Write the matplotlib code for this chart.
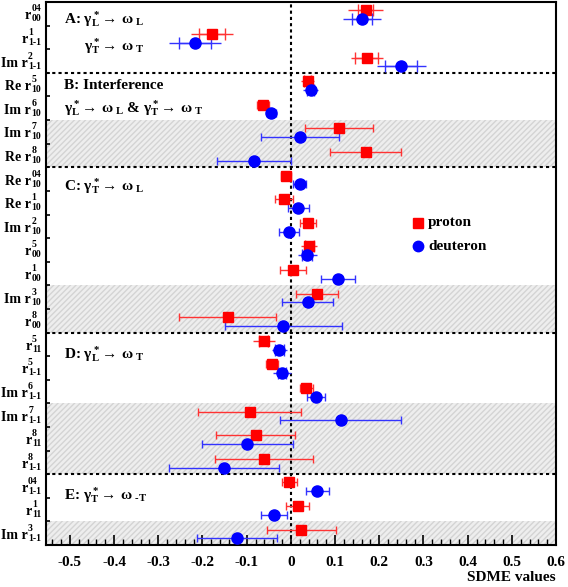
import numpy as np
import matplotlib
matplotlib.use("Agg")
import matplotlib.pyplot as plt
from matplotlib.transforms import ScaledTranslation

plt.rcParams['font.family'] = ['Liberation Serif', 'DejaVu Serif']
plt.rcParams['font.weight'] = 'bold'
plt.rcParams['mathtext.fontset'] = 'custom'
plt.rcParams['mathtext.rm'] = 'Liberation Serif:bold'
plt.rcParams['mathtext.it'] = 'Liberation Serif:bold'
plt.rcParams['mathtext.bf'] = 'Liberation Serif:bold'
plt.rcParams['axes.unicode_minus'] = False

# row labels, top to bottom: (prefix, superscript, subscript)
label_prefix = ['r', 'r', 'Im r',
                'Re r', 'Im r', 'Im r', 'Re r',
                'Re r', 'Re r', 'Im r', 'r', 'r', 'Im r', 'r',
                'r', 'r', 'Im r', 'Im r', 'r', 'r',
                'r', 'r', 'Im r']
label_sup = ['04', '1', '2',
             '5', '6', '7', '8',
             '04', '1', '2', '5', '1', '3', '8',
             '5', '5', '6', '7', '8', '8',
             '04', '1', '3']
label_sub = ['00', '1-1', '1-1',
             '10', '10', '10', '10',
             '10', '10', '10', '00', '00', '10', '00',
             '11', '1-1', '1-1', '1-1', '11', '1-1',
             '1-1', '11', '1-1']

proton = [0.169, -0.178, 0.172,
          0.038, -0.063, 0.109, 0.169,
          -0.011, -0.016, 0.039, 0.042, 0.005, 0.059, -0.143,
          -0.061, -0.043, 0.035, -0.093, -0.080, -0.061,
          -0.004, 0.015, 0.024]
proton_tot = [0.040, 0.048, 0.036,
              0.014, 0.013, 0.077, 0.080,
              0.012, 0.020, 0.018, 0.018, 0.029, 0.048, 0.110,
              0.024, 0.014, 0.015, 0.117, 0.090, 0.111,
              0.017, 0.025, 0.077]
proton_stat = [0.017, 0.029, 0.026,
               0.008, 0, 0, 0,
               0, 0, 0, 0.010, 0, 0, 0,
               0.010, 0, 0, 0, 0, 0,
               0, 0, 0]

deuteron = [0.161, -0.216, 0.250,
            0.045, -0.044, 0.020, -0.084,
            0.020, 0.017, -0.004, 0.037, 0.107, 0.038, -0.017,
            -0.026, -0.020, 0.057, 0.113, -0.099, -0.151,
            0.060, -0.038, -0.122]
deuteron_tot = [0.044, 0.059, 0.055,
                0.017, 0.011, 0.088, 0.084,
                0.015, 0.024, 0.023, 0.022, 0.039, 0.057, 0.132,
                0.017, 0.020, 0.021, 0.137, 0.103, 0.125,
                0.026, 0.030, 0.090]
deuteron_stat = [0.023, 0.036, 0.036,
                 0.008, 0, 0, 0,
                 0, 0, 0, 0.011, 0, 0, 0,
                 0.010, 0.010, 0, 0, 0, 0,
                 0, 0, 0]

shaded_rows = [5, 6, 12, 13, 17, 18, 19, 22]
section_edges = [3, 7, 14, 20]

n = len(label_prefix)
rows = np.arange(n)

fig = plt.figure(figsize=(5.68, 5.87), dpi=100)
ax = fig.add_axes([0.081, 0.0715, 0.898, 0.925])

for r in shaded_rows:
    ax.axhspan(r, r + 1, facecolor='#eeeeee', edgecolor='#d4d4d4', hatch='//////', lw=0, zorder=0)
for e in section_edges:
    ax.axhline(e, color='black', ls=(0, (1.5, 1.5)), lw=1.5, zorder=1)
ax.axvline(0, color='black', ls=(0, (1.5, 1.5)), lw=1.5, zorder=1)

yp = rows + 0.35
yd = rows + 0.72


def draw_bars(vals, ys, tot, stat, col):
    vals = np.array(vals)
    tot = np.array(tot)
    stat = np.array(stat)
    has_stat = stat > 0
    # rows with stat errors: total bar without caps, stat bar with tall caps
    ax.errorbar(vals[has_stat], ys[has_stat], xerr=tot[has_stat], fmt='none',
                ecolor=col, elinewidth=1, capsize=0, zorder=3)
    ax.errorbar(vals[has_stat], ys[has_stat], xerr=stat[has_stat], fmt='none',
                ecolor=col, elinewidth=1, capsize=4, zorder=3)
    ax.errorbar(vals[~has_stat], ys[~has_stat], xerr=tot[~has_stat], fmt='none',
                ecolor=col, elinewidth=1, capsize=3, zorder=3)


draw_bars(proton, yp, proton_tot, proton_stat, '#ff3333')
draw_bars(deuteron, yd, deuteron_tot, deuteron_stat, '#3333ff')

ax.plot(proton, yp, 's', color='#ff0000', ms=7.5, zorder=4)
ax.plot(deuteron, yd, 'o', color='#0000ff', ms=8, zorder=4)

# legend
ax.plot([0.287], [9.35], 's', color='#ff0000', ms=7, zorder=4)
ax.plot([0.287], [10.35], 'o', color='#0000ff', ms=7.5, zorder=4)
ax.text(0.31, 9.35, 'proton', fontsize=11, va='center')
ax.text(0.31, 10.35, 'deuteron', fontsize=11, va='center')

# section titles
fs = 11
ax.text(-0.514, 0.7, r'A: $\gamma^*_{\mathrm{L}}\!\rightarrow\,\omega_{\mathrm{\ L}}$', fontsize=fs, va='center')
ax.text(-0.469, 1.85, r'$\gamma^*_{\mathrm{T}}\!\rightarrow\,\omega_{\mathrm{\ T}}$', fontsize=fs, va='center')
ax.text(-0.514, 3.55, 'B: Interference', fontsize=fs, va='center')
ax.text(-0.514, 4.5, r'$\gamma^*_{\mathrm{L}}\!\rightarrow\,\omega_{\mathrm{\ L}}$ & $\gamma^*_{\mathrm{T}}\!\rightarrow\,\omega_{\mathrm{\ T}}$', fontsize=fs, va='center')
ax.text(-0.514, 7.8, r'C: $\gamma^*_{\mathrm{T}}\!\rightarrow\,\omega_{\mathrm{\ L}}$', fontsize=fs, va='center')
ax.text(-0.514, 14.9, r'D: $\gamma^*_{\mathrm{L}}\!\rightarrow\,\omega_{\mathrm{\ T}}$', fontsize=fs, va='center')
ax.text(-0.514, 20.9, r'E: $\gamma^*_{\mathrm{T}}\!\rightarrow\,\omega_{\mathrm{\ \text{-}T}}$', fontsize=fs, va='center')

ax.set_xlim(-0.554, 0.6)
ax.set_ylim(n, 0)

xt = np.arange(-0.5, 0.61, 0.1)
ax.set_xticks(xt)
ax.set_xticklabels(['%.1f' % v if abs(v) > 1e-9 else '0' for v in xt], fontsize=11)
ax.set_xticks(np.arange(-0.54, 0.6, 0.02), minor=True)
ax.tick_params(axis='x', which='major', direction='in', length=7, width=1.2, pad=8)
ax.tick_params(axis='x', which='minor', direction='in', length=4, width=1)

ax.set_yticks(np.arange(1, n))
ax.set_yticklabels([])
ax.tick_params(axis='y', which='major', direction='in', length=3, width=1.2)

for s in ax.spines.values():
    s.set_linewidth(1.5)

# y labels built by hand: big "r" with stacked super/subscript
ytr = ax.get_yaxis_transform()
renderer = fig.canvas.get_renderer()


def shifted(dx_px, dy_px):
    return ytr + ScaledTranslation(dx_px / fig.dpi, dy_px / fig.dpi, fig.dpi_scale_trans)


for i in range(n):
    c = i + 0.5
    t_sup = ax.text(0, c, label_sup[i], fontsize=7, ha='left', va='baseline', transform=ytr)
    t_sub = ax.text(0, c, label_sub[i], fontsize=7, ha='left', va='baseline', transform=ytr)
    w = max(t_sup.get_window_extent(renderer).width, t_sub.get_window_extent(renderer).width)
    x0 = -5 - w
    t_sup.set_transform(shifted(x0, 2.5))
    t_sub.set_transform(shifted(x0, -7.5))
    ax.text(0, c, label_prefix[i], fontsize=10, ha='right', va='baseline',
            transform=shifted(x0 - 0.3, -5.5))

fig.text(0.979, 0.005, 'SDME values', ha='right', va='bottom', fontsize=11, fontweight='bold')

fig.savefig('out.png', dpi=100)
